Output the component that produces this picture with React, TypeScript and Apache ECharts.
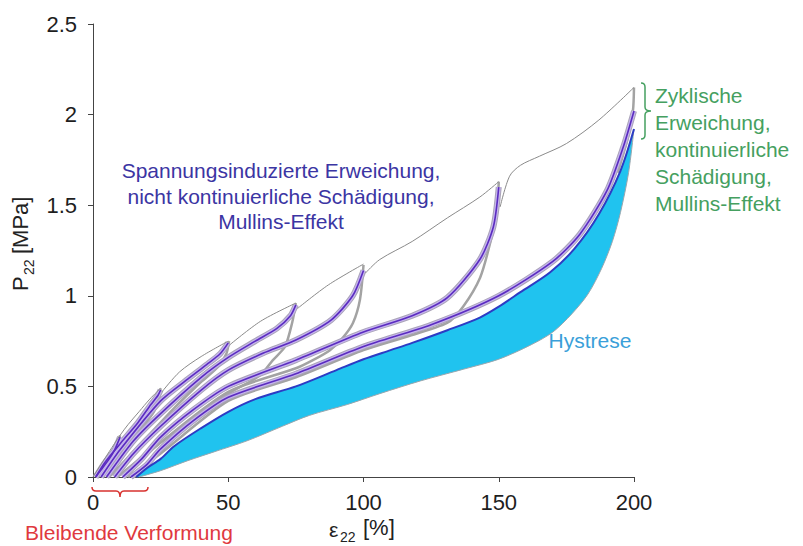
import React, { useEffect, useRef } from "react";
import * as echarts from "echarts";

type Pt = [number, number];

const xTicks = { min: 0, max: 200, step: 50 };
const yTicks = { min: 0, max: 2.5, step: 0.5 };

// virgin (envelope) loading curve, thin grey, in segments between the cycle peaks
const virgin1: Pt[] = [[0, 0], [3, 0.07], [6, 0.14], [10, 0.23], [13, 0.29], [17, 0.36], [21, 0.43], [25, 0.49]];
const virgin2: Pt[] = [[25.5, 0.47], [32, 0.58], [40, 0.665], [50, 0.75]];
const virgin3: Pt[] = [[50.6, 0.73], [62, 0.86], [75, 0.96]];
const virgin4: Pt[] = [[75.6, 0.93], [87, 1.06], [100, 1.175]];
const virgin5: Pt[] = [[100.7, 1.125], [106, 1.2], [118, 1.3], [131, 1.43], [143, 1.545], [150, 1.63]];
const virgin6: Pt[] = [[150.5, 1.49], [154, 1.66], [158, 1.72], [165, 1.77], [175, 1.84], [187, 1.97], [200, 2.15]];

// reloading curves (purple bands)
const load10: Pt[] = [[1, 0], [3, 0.04], [6, 0.1], [8, 0.15], [10, 0.22]];
const load25: Pt[] = [[1, 0], [4.4, 0.08], [10.4, 0.19], [16.6, 0.3], [21.4, 0.4], [24, 0.45], [25, 0.48]];
const load50: Pt[] = [[3, 0], [10, 0.15], [25, 0.42], [35, 0.54], [42, 0.62], [47, 0.68], [50, 0.74]];
const load75: Pt[] = [[5, 0], [15, 0.2], [25, 0.35], [40, 0.55], [50, 0.66], [60, 0.75], [68, 0.82], [73, 0.89], [75, 0.95]];
const load100: Pt[] = [[8, 0], [15, 0.13], [25, 0.28], [40, 0.48], [50, 0.59], [63, 0.684], [75, 0.756], [88, 0.866], [96, 1.0], [100, 1.14]];
const load150: Pt[] = [[11, 0], [18, 0.1], [25, 0.22], [37, 0.37], [50, 0.5], [75, 0.645], [100, 0.8], [118, 0.89], [131, 0.99], [143, 1.2], [148, 1.38], [150, 1.6]];
const load200first: Pt[] = [[14, 0], [20, 0.07], [25, 0.155], [37, 0.31], [50, 0.44], [75, 0.57], [100, 0.72], [125, 0.84], [150, 1.0], [170, 1.19], [180, 1.34], [190, 1.58], [196, 1.82], [200, 2.02]];

// unloading curves (grey)
const unload10: Pt[] = [[10, 0.23], [9, 0.17], [7, 0.11], [4, 0.05], [2, 0]];
const unload25: Pt[] = [[25, 0.49], [24.2, 0.42], [22.5, 0.36], [19.5, 0.3], [15, 0.22], [10, 0.13], [3, 0]];
const unload50: Pt[] = [[50.3, 0.75], [49.3, 0.68], [46.3, 0.61], [42, 0.55], [39.6, 0.52], [30, 0.38], [20, 0.22], [6, 0]];
const unload75: Pt[] = [[75, 0.96], [73.6, 0.85], [71, 0.72], [66.5, 0.645], [61.7, 0.56], [50, 0.46], [25, 0.19], [9, 0]];
const unload100: Pt[] = [[100, 1.17], [98.7, 0.98], [96.1, 0.85], [92.4, 0.77], [87.6, 0.7], [81.3, 0.645], [75, 0.6], [50, 0.47], [25, 0.19], [11, 0]];
const unload150: Pt[] = [[150, 1.63], [149.3, 1.47], [146.8, 1.29], [143.1, 1.1], [136.8, 0.94], [130.9, 0.85], [115, 0.77], [100, 0.7], [75, 0.55], [50, 0.42], [25, 0.13], [13, 0]];
const unload200first: Pt[] = [[200, 2.15], [199.6, 2.02], [197.5, 1.86], [194, 1.68]];

// stabilised hysteresis loop at 200 %
const hystUpper: Pt[] = [[16, 0], [20, 0.05], [25, 0.1], [30, 0.17], [40, 0.27], [50, 0.36], [60, 0.43], [75, 0.5], [90, 0.59], [100, 0.65], [110, 0.7], [118, 0.74], [131, 0.81], [143, 0.88], [150, 0.94], [158, 1.02], [169, 1.13], [178, 1.26], [187, 1.45], [195, 1.69], [200, 1.92]];
const hystLower: Pt[] = [[17, 0], [25, 0.035], [35, 0.09], [45, 0.14], [57, 0.2], [70, 0.28], [80, 0.34], [94, 0.4], [106, 0.46], [121, 0.53], [137, 0.595], [150, 0.65], [162, 0.73], [170, 0.8], [177, 0.9], [183, 1.01], [188, 1.15], [192, 1.3], [195, 1.46], [198, 1.68], [200, 1.92]];

const FONT = '"Liberation Sans", Arial, Helvetica, sans-serif';

echarts.graphic.registerShape(
  "braceH",
  echarts.graphic.extendPath("M0 0 Q0 4 4 4 L24 4 Q28 4 28 10 Q28 4 32 4 L52 4 Q56 4 56 0", {}) as any
);
echarts.graphic.registerShape(
  "braceV",
  echarts.graphic.extendPath("M0 0 Q4 0 4 4 L4 24 Q4 28 10 28 Q4 28 4 32 L4 52 Q4 56 0 56", {}) as any
);

function band(data: Pt[]) {
  const base = { type: "line", data, symbol: "none", showSymbol: false, smooth: 0.25, silent: true };
  return [
    { ...base, z: 3, lineStyle: { width: 6, color: "#aaa4b8" } },
    { ...base, z: 4, lineStyle: { width: 4, color: "#c5b4ee" } },
    { ...base, z: 5, lineStyle: { width: 1.6, color: "#5b2cc0" } },
  ];
}

function greyLine(data: Pt[]) {
  return {
    type: "line", data, symbol: "none", showSymbol: false, smooth: 0.25, silent: true, z: 2,
    lineStyle: { width: 2.5, color: "#a3a3a3" },
  };
}

function thinLine(data: Pt[]) {
  return {
    type: "line", data, symbol: "none", showSymbol: false, smooth: 0.3, silent: true, z: 7,
    lineStyle: { width: 1, color: "#8a8a8a" },
  };
}

function txt(text: string, x: number, y: number, size: number, color: string, align = "left", vAlign = "middle", lineHeight?: number) {
  return {
    type: "text", x, y, silent: true,
    style: {
      text, fill: color, fontSize: size, fontFamily: FONT,
      textAlign: align, align, textVerticalAlign: vAlign, verticalAlign: vAlign,
      lineHeight: lineHeight ?? Math.round(size * 1.2),
    },
  };
}

export default function App() {
  const ref = useRef<HTMLDivElement>(null);
  useEffect(() => {
    if (!ref.current) return;
    const chart = echarts.init(ref.current, null, { renderer: "svg" });
    const polygon = [...hystUpper, ...hystLower.slice().reverse()];
    const option: any = {
      animation: false,
      backgroundColor: "#ffffff",
      grid: { left: 93, right: 169, top: 24, bottom: 69 },
      xAxis: {
        type: "value", min: xTicks.min, max: xTicks.max, interval: xTicks.step,
        axisLine: { show: true, onZero: false, lineStyle: { color: "#444", width: 1 } },
        axisTick: { show: true, length: 5, lineStyle: { color: "#444" } },
        splitLine: { show: false },
        axisLabel: { fontSize: 22, color: "#1e1e1e", margin: 14, fontFamily: FONT },
      },
      yAxis: {
        type: "value", min: yTicks.min, max: yTicks.max, interval: yTicks.step,
        axisLine: { show: true, lineStyle: { color: "#444", width: 1 } },
        axisTick: { show: true, length: 5, lineStyle: { color: "#444" } },
        splitLine: { show: false },
        axisLabel: { fontSize: 22, color: "#1e1e1e", margin: 16, fontFamily: FONT },
      },
      series: [
        {
          type: "custom", coordinateSystem: "cartesian2d", data: [[0, 0]], silent: true, z: 1,
          renderItem: (_p: any, api: any) => ({
            type: "polygon",
            shape: { points: polygon.map((p) => api.coord(p)), smooth: 0.3 },
            style: { fill: "#20c3ef", stroke: "none" },
          }),
        },
        {
          type: "line", data: hystLower, symbol: "none", silent: true, z: 2, smooth: 0.3,
          lineStyle: { width: 1, color: "#9aa6ad" },
        },
        greyLine(unload10), greyLine(unload25), greyLine(unload50), greyLine(unload75),
        greyLine(unload100), greyLine(unload150), greyLine(unload200first),
        ...band(load200first), ...band(load150), ...band(load100), ...band(load75),
        ...band(load50), ...band(load25), ...band(load10),
        {
          type: "line", data: hystUpper, symbol: "none", silent: true, z: 6, smooth: 0.3,
          lineStyle: { width: 2, color: "#2c3cc4" },
        },
        thinLine(virgin1), thinLine(virgin2), thinLine(virgin3),
        thinLine(virgin4), thinLine(virgin5), thinLine(virgin6),
      ],
      graphic: [
        txt("Spannungsinduzierte Erweichung,\nnicht kontinuierliche Schädigung,\nMullins-Effekt", 281, 158, 21, "#3b35a3", "center", "top", 25.5),
        txt("Zyklische\nErweichung,\nkontinuierliche\nSchädigung,\nMullins-Effekt", 655, 81.5, 21, "#45a060", "left", "top", 27),
        txt("Hystrese", 590, 340, 21, "#3a9fd9", "center", "middle"),
        txt("Bleibende Verformung", 129, 532, 21, "#e0393e", "center", "middle"),
        txt("ε", 329, 529, 21, "#222", "left", "middle"),
        txt("22", 340, 537, 14, "#222", "left", "middle"),
        txt("[%]", 363, 527, 22, "#222", "left", "middle"),
        {
          type: "group", x: 20, y: 291, rotation: Math.PI / 2, silent: true,
          children: [
            txt("P", 0, 0, 22, "#222", "left", "middle"),
            txt("22", 16, 9, 14, "#222", "left", "middle"),
            txt("[MPa]", 37, 0, 22, "#222", "left", "middle"),
          ],
        },
        { type: "braceH", x: 92, y: 487, silent: true, style: { stroke: "#d8322f", fill: "none", lineWidth: 1.5 } },
        { type: "braceV", x: 641, y: 83, silent: true, style: { stroke: "#45a060", fill: "none", lineWidth: 1.5 } },
      ],
    };
    chart.setOption(option);
    return () => chart.dispose();
  }, []);
  return (
    <div
      ref={ref}
      style={{ position: "fixed", left: 0, top: 0, width: 803, height: 546, background: "#fff" }}
    />
  );
}
